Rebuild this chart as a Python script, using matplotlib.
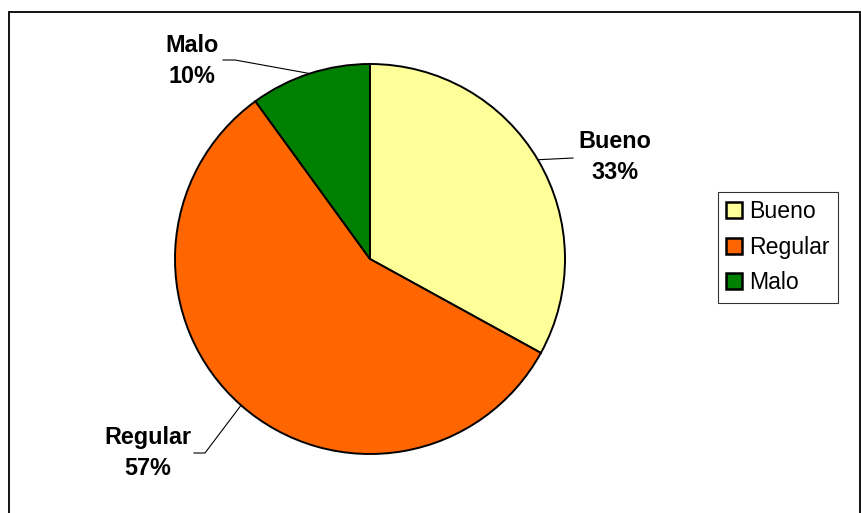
import numpy as np
import matplotlib.pyplot as plt
from matplotlib.patches import Rectangle

plt.rcParams['font.family'] = ['Liberation Sans', 'DejaVu Sans']

labels = ['Bueno', 'Regular', 'Malo']
values = [33, 57, 10]
colors = ['#FFFF99', '#FF6600', '#008000']

W, H = 861, 513
fig = plt.figure(figsize=(W / 100, H / 100), dpi=100)
ax = fig.add_axes([0, 0, 1, 1])

# outer chart border (bottom runs off the picture)
ax.add_patch(Rectangle((9, -20), 851, H - 12 + 20, fill=False, edgecolor='black', linewidth=1.3))

cx, cy, r = 370, H - 259, 195
wedges, _ = ax.pie(values, colors=colors, startangle=90, counterclock=False,
                   center=(cx, cy), radius=r, frame=True,
                   wedgeprops=dict(edgecolor='black', linewidth=1.4))
ax.set_xlim(0, W)
ax.set_ylim(0, H)
ax.axis('off')

# label positions (pixel coords of text centre) and leader line bends
text_pos = {'Bueno': (615, 157), 'Regular': (148, 453), 'Malo': (192, 61)}
elbow = {'Bueno': (573, 158), 'Regular': (205, 453), 'Malo': (235, 60)}
line_end = {'Bueno': (537, 158), 'Regular': (194, 453), 'Malo': (223, 60)}

for w, lab, v in zip(wedges, labels, values):
    ang = np.deg2rad((w.theta1 + w.theta2) / 2)
    ex, ey = cx + r * np.cos(ang), cy + r * np.sin(ang)
    tx, ty = text_pos[lab]
    bx, by = elbow[lab]
    lx, ly = line_end[lab]
    if lab == 'Bueno':
        ax.plot([ex, bx], [ey, H - by], color='black', linewidth=0.8)
    else:
        ax.plot([ex, bx, lx], [ey, H - by, H - ly], color='black', linewidth=0.8)
    ax.text(tx, H - ty, f'{lab}\n{v}%', ha='center', va='center',
            fontsize=16.8, fontweight='bold', linespacing=1.45)

leg = fig.legend(wedges, labels, loc='upper left',
                 bbox_to_anchor=(718 / W, 1 - 192 / H), fontsize=16.6,
                 frameon=True, fancybox=False, edgecolor='black',
                 handlelength=0.7, handleheight=0.7, handletextpad=0.3,
                 labelspacing=0.55, borderpad=0.35, borderaxespad=0)
leg.get_frame().set_linewidth(0.8)
for h in leg.legend_handles:
    h.set_linewidth(1.8)

fig.savefig('out.png', dpi=100)
